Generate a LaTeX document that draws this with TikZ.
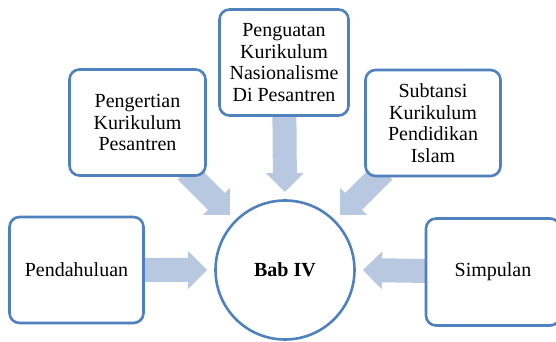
\documentclass[tikz,border=0pt]{standalone}
\usepackage{fontspec}
\setmainfont{Liberation Serif}
\usetikzlibrary{calc,shadows}
\pgfdeclarelayer{background}
\pgfsetlayers{background,main}
\definecolor{bordblue}{RGB}{79,129,189}
\definecolor{arrowfill}{RGB}{185,200,225}
\tikzset{
  boxnode/.style={draw=bordblue, line width=2.6pt, fill=white, rounded corners=10pt,
    minimum width=134pt, minimum height=106pt, align=center,
    font=\fontsize{20}{21.5}\selectfont, inner sep=2pt,
    drop shadow={opacity=0.25, shadow xshift=1pt, shadow yshift=-1.2pt}},
  circnode/.style={circle, draw=bordblue, line width=2.6pt, fill=white,
    minimum size=139pt, inner sep=0pt, font=\bfseries\fontsize{20}{22}\selectfont},
}
\newcommand{\blockarr}[2]{%
  \fill[arrowfill] let \p1=(#1), \p2=(#2),
    \n1={atan2(\y2-\y1,\x2-\x1)}, \n2={veclen(\x2-\x1,\y2-\y1)} in
    (\p1) ++(\n1+90:12pt) -- ++(\n1:\n2-19pt) -- ++(\n1+90:7pt) -- (\p2)
    -- ++(\n1-135:26.87pt) -- ++(\n1+90:7pt) -- ++(\n1+180:\n2-19pt) -- cycle;}
\begin{document}
\begin{tikzpicture}[x=1pt,y=1pt]
\useasboundingbox (0,0) rectangle (556,342);
\node[circnode] (bab) at (285,72) {Bab IV};
\node[boxnode] (pend) at (76.5,72) {Pendahuluan};
\node[boxnode, minimum width=136pt] (pgr) at (137.5,219.5) {Pengertian\\Kurikulum\\Pesantren};
\node[boxnode, minimum width=129pt] (pgu) at (284,279.5) {Penguatan\\Kurikulum\\Nasionalisme\\Di Pesantren};
\node[boxnode, minimum width=135pt] (sub) at (433,219) {Subtansi\\Kurikulum\\Pendidikan\\Islam};
\node[boxnode, minimum height=107pt] (simp) at (493,70) {Simpulan};
\coordinate (tl) at ($(bab.center)+(135:78pt)$);
\coordinate (tr) at ($(bab.center)+(45:78pt)$);
\coordinate (tt) at ($(bab.center)+(90:78pt)$);
\coordinate (tw) at ($(bab.center)+(180:78pt)$);
\coordinate (te) at ($(bab.center)+(0:78pt)$);
\coordinate (sl) at ($(bab.center)+(135:140pt)$);
\coordinate (sr) at ($(bab.center)+(45:140pt)$);
\begin{pgfonlayer}{background}
\blockarr{pend.center}{tw}
\blockarr{simp.center}{te}
\blockarr{pgu.center}{tt}
\blockarr{sl}{tl}
\blockarr{sr}{tr}
\end{pgfonlayer}
\end{tikzpicture}
\end{document}
